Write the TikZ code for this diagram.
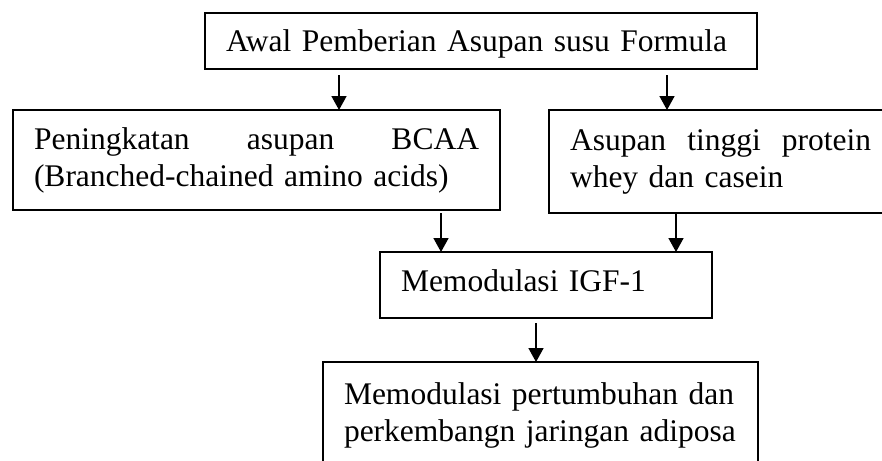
\documentclass[tikz,border=0pt]{standalone}
\usepackage{fontspec}
\setmainfont{Liberation Serif}
\usetikzlibrary{arrows.meta}

\begin{document}
\begin{tikzpicture}[x=1pt,y=-1pt,
  kotak/.style={draw,line width=1.4pt,anchor=north west,align=left,inner xsep=21pt,inner ysep=0pt,outer sep=0pt,font=\fontsize{31.5}{37}\selectfont},
  panah/.style={line width=1.6pt,-{Triangle[length=14pt,width=15pt]}}]
  \useasboundingbox (0,0) rectangle (882,460);
  \clip (0,0) rectangle (882,460);
  \node[kotak,text width=510pt,minimum height=56pt,text depth=0pt] (awal) at (205,13) {Awal Pemberian Asupan susu Formula};
  \node[kotak,text width=445pt,minimum height=100pt] (kiri) at (13,110) {Peningkatan\hfill asupan\hfill BCAA\\(Branched-chained amino acids)};
  \node[kotak,text width=301pt,minimum height=103pt] (kanan) at (549,110) {Asupan\hfill tinggi\hfill protein\\whey dan casein};
  \node[kotak,text width=290pt,minimum height=66pt,text depth=8pt] (igf) at (380,252) {Memodulasi IGF-1};
  \node[kotak,text width=393pt,minimum height=106pt] (adiposa) at (323,362) {Memodulasi pertumbuhan dan\\perkembangn jaringan adiposa};
  \draw[panah] ([xshift=-142pt,yshift=-6pt]awal.south) -- ([xshift=82.5pt]kiri.north);
  \draw[panah] ([xshift=186pt,yshift=-6pt]awal.south) -- ([xshift=-53.5pt]kanan.north);
  \draw[panah] ([xshift=184.5pt,yshift=-3pt]kiri.south) -- ([xshift=-105pt]igf.north);
  \draw[panah] ([xshift=-44.5pt]kanan.south) -- ([xshift=130pt]igf.north);
  \draw[panah] ([xshift=-10pt,yshift=-5pt]igf.south) -- ([xshift=-4.5pt]adiposa.north);
\end{tikzpicture}
\end{document}
